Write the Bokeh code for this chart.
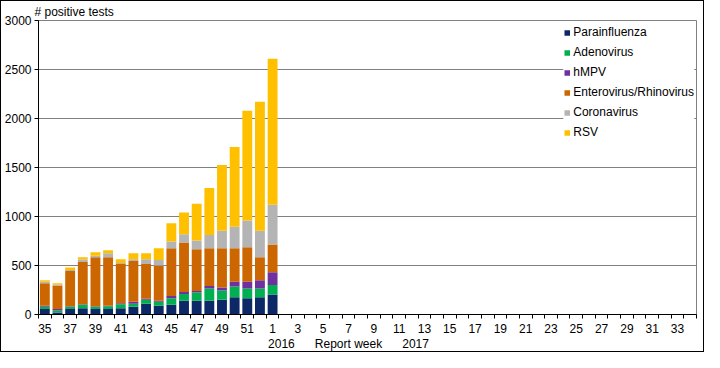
from bokeh.plotting import figure
from bokeh.models import Range1d, FixedTicker, ColumnDataSource, LinearAxis, Title
from bokeh.embed import file_html
from bokeh.resources import INLINE

# Report weeks on the axis (season week 35 .. week 34 of next year)
week_labels = [str(w) for w in list(range(35, 53)) + list(range(1, 35))]

# Weeks with data: 35..52, 1
data_weeks = ["35", "36", "37", "38", "39", "40", "41", "42", "43", "44", "45",
              "46", "47", "48", "49", "50", "51", "52", "1"]

parainfluenza = [55, 20, 55, 65, 55, 55, 65, 80, 110, 90, 100, 140, 140, 140, 150, 175, 165, 175, 205]
adenovirus = [25, 20, 25, 35, 25, 30, 40, 30, 40, 40, 65, 70, 85, 125, 95, 110, 100, 90, 95]
hmpv = [10, 15, 5, 5, 5, 5, 10, 20, 10, 10, 25, 20, 15, 25, 30, 50, 70, 85, 130]
entero_rhino = [230, 240, 360, 430, 500, 495, 400, 415, 355, 360, 485, 505, 425, 385, 400, 340, 350, 235, 285]
coronavirus = [15, 10, 10, 25, 15, 40, 10, 20, 50, 55, 70, 85, 90, 135, 180, 220, 275, 270, 405]
rsv = [15, 15, 25, 25, 35, 30, 40, 60, 60, 120, 185, 220, 375, 480, 670, 815, 1120, 1315, 1490]

series_names = ["Parainfluenza", "Adenovirus", "hMPV", "Enterovirus/Rhinovirus", "Coronavirus", "RSV"]
series_keys = ["para", "adeno", "hmpv", "entero", "corona", "rsv"]
colors = ["#0c2866", "#00b050", "#7030a0", "#cc6600", "#b4b4b4", "#ffc000"]

y_ticks = [0, 500, 1000, 1500, 2000, 2500, 3000]

# second row of x-axis text
season_texts = ["2016", "Report week", "2017"]

FONT = "Liberation Sans"

x_index = [week_labels.index(w) for w in data_weeks]
source = ColumnDataSource(dict(
    x=x_index,
    para=parainfluenza,
    adeno=adenovirus,
    hmpv=hmpv,
    entero=entero_rhino,
    corona=coronavirus,
    rsv=rsv,
))

n = len(week_labels)
p = figure(width=704, height=352, output_backend="svg", toolbar_location=None,
           x_range=Range1d(-0.5, n - 0.5), y_range=Range1d(0, 3000),
           min_border_left=37, min_border_right=9, min_border_top=18, min_border_bottom=0)
p.styles = {"border": "1px solid black"}
p.outline_line_color = "#808080"
p.background_fill_color = "white"
p.border_fill_color = "white"

p.vbar_stack(series_keys, x="x", width=0.78, color=colors, source=source,
             legend_label=series_names, line_width=0)

# title-like axis label at top left
t = Title(text="# positive tests", align="left", offset=-4, standoff=3,
          text_font=FONT, text_font_size="12px", text_font_style="normal",
          text_color="black")
p.add_layout(t, "above")

# y axis
p.yaxis.ticker = FixedTicker(ticks=y_ticks)
p.yaxis.minor_tick_line_color = None
p.yaxis.major_tick_out = 4
p.yaxis.major_tick_in = 0
p.yaxis.axis_line_color = "black"
p.yaxis.major_tick_line_color = "black"
p.yaxis.major_label_text_font = FONT
p.yaxis.major_label_text_font_size = "12px"
p.yaxis.major_label_text_color = "black"
p.yaxis.major_label_standoff = 3
p.ygrid.grid_line_color = "#808080"
p.ygrid.ticker = FixedTicker(ticks=y_ticks)
p.xgrid.visible = False

# x axis
label_pos = list(range(0, n, 2))
p.xaxis.ticker = FixedTicker(ticks=label_pos, minor_ticks=[i - 0.5 for i in range(n + 1)])
p.xaxis.major_label_overrides = {i: week_labels[i] for i in label_pos}
p.xaxis.major_tick_out = 0
p.xaxis.major_tick_in = 0
p.xaxis.minor_tick_out = 4
p.xaxis.minor_tick_in = 0
p.xaxis.minor_tick_line_color = "black"
p.xaxis.axis_line_color = "black"
p.xaxis.major_label_text_font = FONT
p.xaxis.major_label_text_font_size = "12px"
p.xaxis.major_label_text_color = "black"
p.xaxis.major_label_standoff = 5

# second row: "2016   Report week   2017"
season_pos = [18.7, 24.0, 29.3]
ax2 = LinearAxis(ticker=FixedTicker(ticks=season_pos),
                 major_label_overrides={k: v for k, v in zip(season_pos, season_texts)},
                 axis_line_color=None, major_tick_line_color=None,
                 major_tick_out=0, major_tick_in=0,
                 minor_tick_line_color=None, minor_tick_out=0, minor_tick_in=0,
                 major_label_standoff=1,
                 major_label_text_font=FONT, major_label_text_font_size="12px",
                 major_label_text_color="black")
p.add_layout(ax2, "below")

# legend
lg = p.legend[0]
lg.location = "top_right"
lg.margin = 2
lg.padding = 6
lg.spacing = 0
lg.glyph_width = 7
lg.glyph_height = 7
lg.label_height = 20
lg.label_standoff = 3
lg.label_text_font = FONT
lg.label_text_font_size = "12px"
lg.label_text_color = "black"
lg.border_line_color = None
lg.background_fill_alpha = 1.0

open("out.html", "w").write(file_html(p, INLINE))
